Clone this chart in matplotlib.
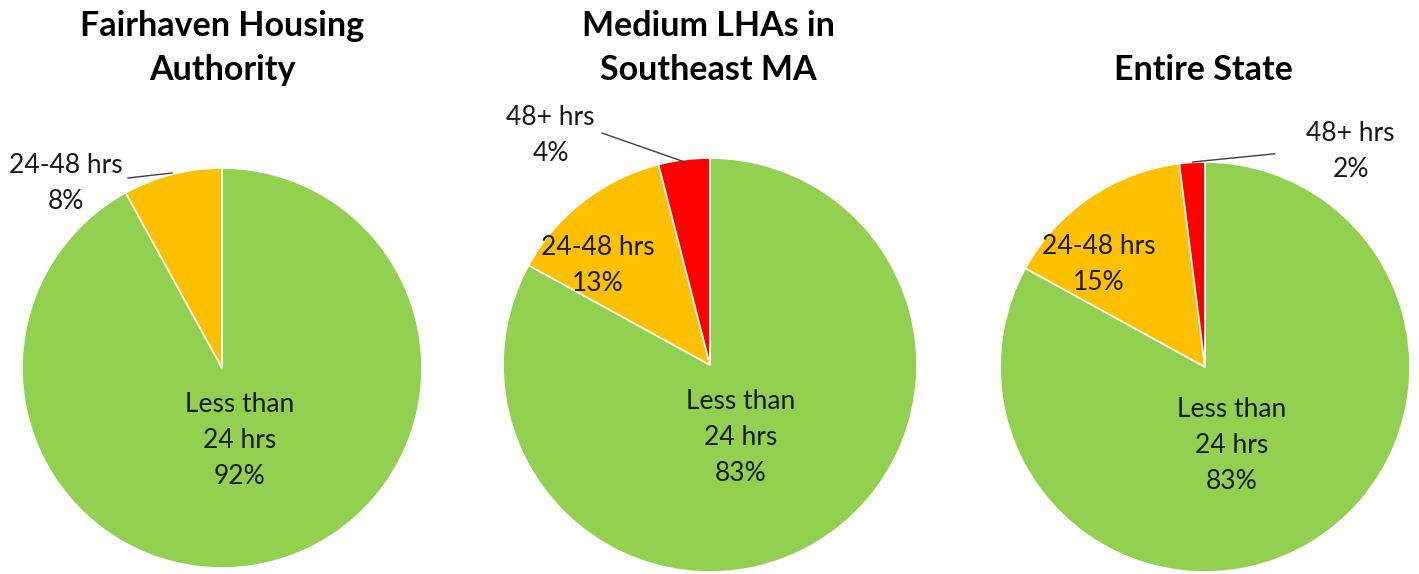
import matplotlib.pyplot as plt

# data
titles = ["Fairhaven Housing\nAuthority", "Medium LHAs in\nSoutheast MA", "Entire State"]
categories = ["Less than\n24 hrs", "24-48 hrs", "48+ hrs"]
fairhaven = [92, 8, 0]
southeast = [83, 13, 4]
state = [83, 15, 2]
colors = ["#92D050", "#FFC000", "#FF0000"]

plt.rcParams['font.family'] = ['Lato', 'DejaVu Sans']

W, H = 1419, 574
fig = plt.figure(figsize=(W / 100, H / 100), dpi=100)

# pie centre (px) and radius (px) for each panel
layout = [(222, 368, 200), (710, 365, 207), (1205, 367, 205)]
title_xy = [(222, 48), (708, 48), (1203, 70)]

# label positions in pie units: one per category
label_pos = [
    [(0.09, -0.36), (-0.78, 0.92), None],
    [(0.15, -0.35), (-0.54, 0.48), (-0.77, 1.11)],
    [(0.13, -0.385), (-0.52, 0.50), (0.71, 1.05)],
]
# leader lines (pie units): start, end
leaders = [
    ((-0.47, 0.95), (-0.25, 0.975)),
    ((-0.52, 1.12), (-0.12, 0.98)),
    ((-0.06, 1.0), (0.34, 1.04)),
]

for i, vals in enumerate([fairhaven, southeast, state]):
    cx, cy, r = layout[i]
    ax = fig.add_axes([(cx - r) / W, (H - cy - r) / H, 2 * r / W, 2 * r / H])
    ax.pie(vals, colors=colors, startangle=90, counterclock=False,
           wedgeprops=dict(edgecolor='white', linewidth=1.2))
    ax.set_xlim(-1, 1)
    ax.set_ylim(-1, 1)
    ax.set_aspect('auto')
    ax.axis('off')
    for j, v in enumerate(vals):
        if v == 0:
            continue
        x, y = label_pos[i][j]
        ax.text(x, y, f"{categories[j]}\n{v}%", ha='center', va='center',
                fontsize=19, color='#1a1a1a', linespacing=1.55, clip_on=False)
    (x0, y0), (x1, y1) = leaders[i]
    ax.plot([x0, x1], [y0, y1], color='#404040', lw=1, clip_on=False)
    tx, ty = title_xy[i]
    fig.text(tx / W, 1 - ty / H, titles[i], ha='center', va='center',
             fontsize=24.5, fontweight='bold', linespacing=1.45)

fig.savefig("out.png", dpi=100)
